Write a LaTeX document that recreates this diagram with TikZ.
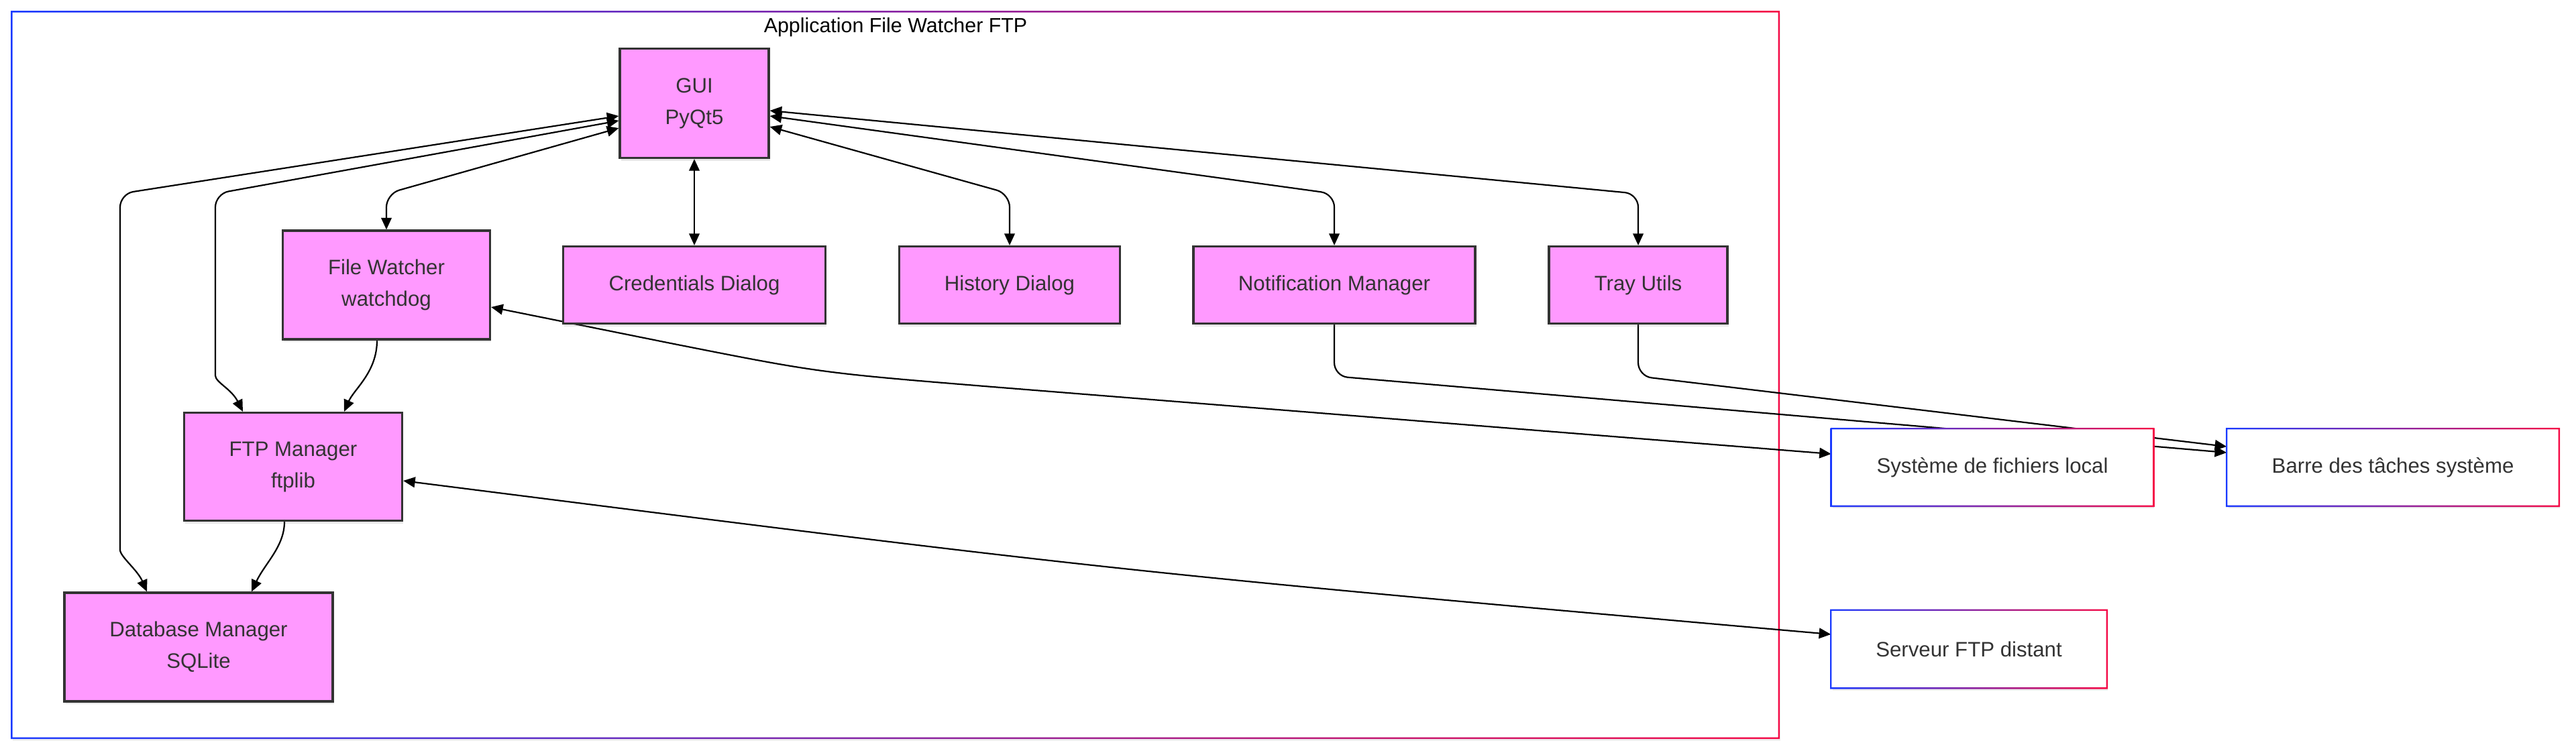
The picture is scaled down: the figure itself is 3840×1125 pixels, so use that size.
\documentclass[tikz,border=0pt]{standalone}
\usepackage{fontspec}
\setmainfont{Liberation Sans}
\usetikzlibrary{arrows.meta,shadows,backgrounds}
\definecolor{compfill}{HTML}{FF99FF}
\definecolor{compline}{HTML}{333333}
\definecolor{gradblue}{RGB}{26,58,255}
\definecolor{gradred}{RGB}{245,10,70}
\tikzset{comp/.style={draw=compline, fill=compfill, line width=0.8pt,
         text=compline, align=center, inner sep=0pt,
         font=\fontsize{7.8}{11.75}\selectfont,
         drop shadow={shadow xshift=0.4pt, shadow yshift=-1pt, opacity=0.18}},
         ext/.style={fill=white, text=compline, inner sep=0pt,
         font=\fontsize{7.8}{11.75}\selectfont,
         drop shadow={shadow xshift=0.4pt, shadow yshift=-1pt, opacity=0.15}},
         link/.style={line width=0.55pt, -{Triangle[length=4.4pt,width=3.9pt]}},
         bilink/.style={line width=0.55pt,
         {Triangle[length=4.4pt,width=3.9pt]}-{Triangle[length=4.4pt,width=3.9pt]}}}
\newcommand\gradframe[1]{\shade[left color=gradblue, right color=gradred, even odd rule]
  ([shift={(-.3pt,-.3pt)}]#1.south west) rectangle ([shift={(.3pt,.3pt)}]#1.north east)
  ([shift={(.3pt,.3pt)}]#1.south west) rectangle ([shift={(-.3pt,-.3pt)}]#1.north east);}

\begin{document}
\begin{tikzpicture}[x=0.25pt, y=-0.25pt]
  \useasboundingbox (0,0) rectangle (3840,1125);

  \node[font=\fontsize{7.6}{9}\selectfont] (title) at (1335,41) {Application File Watcher FTP};

  \node[comp, minimum width=55.5pt, minimum height=40.75pt] (gui) at (1035,154) {GUI\\PyQt5};
  \node[comp, minimum width=77.25pt, minimum height=40.5pt] (fw) at (576,425) {File Watcher\\watchdog};
  \node[comp, minimum width=97.75pt, minimum height=28.75pt] (cred) at (1035,425) {Credentials Dialog};
  \node[comp, minimum width=82.25pt, minimum height=28.75pt] (hist) at (1505,425) {History Dialog};
  \node[comp, minimum width=105pt, minimum height=28.75pt] (notif) at (1989,425) {Notification Manager};
  \node[comp, minimum width=66.5pt, minimum height=28.75pt] (tray) at (2442,425) {Tray Utils};
  \node[comp, minimum width=81.25pt, minimum height=40.25pt] (ftp) at (437,696) {FTP Manager\\ftplib};
  \node[comp, minimum width=100pt, minimum height=40.5pt] (db) at (296,965) {Database Manager\\SQLite};

  \node[ext, minimum width=119.75pt, minimum height=28.5pt] (fs) at (2970,697) {Système de fichiers local};
  \node[ext, minimum width=123.5pt, minimum height=28.5pt] (bar) at (3567,697) {Barre des tâches système};
  \node[ext, minimum width=102.5pt, minimum height=28.75pt] (srv) at (2935,968) {Serveur FTP distant};
  \gradframe{fs}
  \gradframe{bar}
  \gradframe{srv}

  \begin{scope}[on background layer]
    \fill[white] (0,0) rectangle (3840,1125);
    \fill[white, drop shadow={shadow xshift=0.4pt, shadow yshift=-1pt, opacity=0.12}] (17,17) rectangle (2652,1101);
    \shade[left color=gradblue, right color=gradred, even odd rule]
      (16,16) rectangle (2653,1102) (18.5,18.5) rectangle (2650.5,1099.5);

    \draw[bilink, rounded corners=5pt] (gui.west |- 0,191) -- (576,289) -- (fw.north);
    \draw[bilink, rounded corners=5pt] (gui.west |- 0,180) -- (321,289) -- (321,540)
      .. controls (321,570) and (345,580) .. (ftp.north -| 362,0);
    \draw[bilink, rounded corners=5pt] (gui.west |- 0,173) -- (179,289) -- (179,800)
      .. controls (179,830) and (205,850) .. (db.north -| 219,0);
    \draw[bilink] (gui.south) -- (cred.north);
    \draw[bilink, rounded corners=5pt] (gui.east |- 0,189) -- (1505,289) -- (hist.north);
    \draw[bilink, rounded corners=5pt] (gui.east |- 0,173) -- (1989,289) -- (notif.north);
    \draw[bilink, rounded corners=5pt] (gui.east |- 0,165) -- (2442,289) -- (tray.north);
    \draw[bilink] (fw.east |- 0,458) -- (1000,512) .. controls (1222,556) .. (1480,577) -- (fs.west |- 0,677);
    \draw[link, rounded corners=5pt] (notif.south) -- (1989,561) -- (bar.west |- 0,675);
    \draw[link, rounded corners=5pt] (tray.south) -- (2442,561) -- (bar.west |- 0,666);
    \draw[link] (fw.south -| 562,0) .. controls (562,555) and (528,580) .. (ftp.north -| 513,0);
    \draw[link] (ftp.south -| 424,0) .. controls (424,815) and (395,840) .. (db.north -| 375,0);
    \draw[bilink] (ftp.east |- 0,717) .. controls (1665,852) .. (srv.west |- 0,946);
  \end{scope}
\end{tikzpicture}
\end{document}
